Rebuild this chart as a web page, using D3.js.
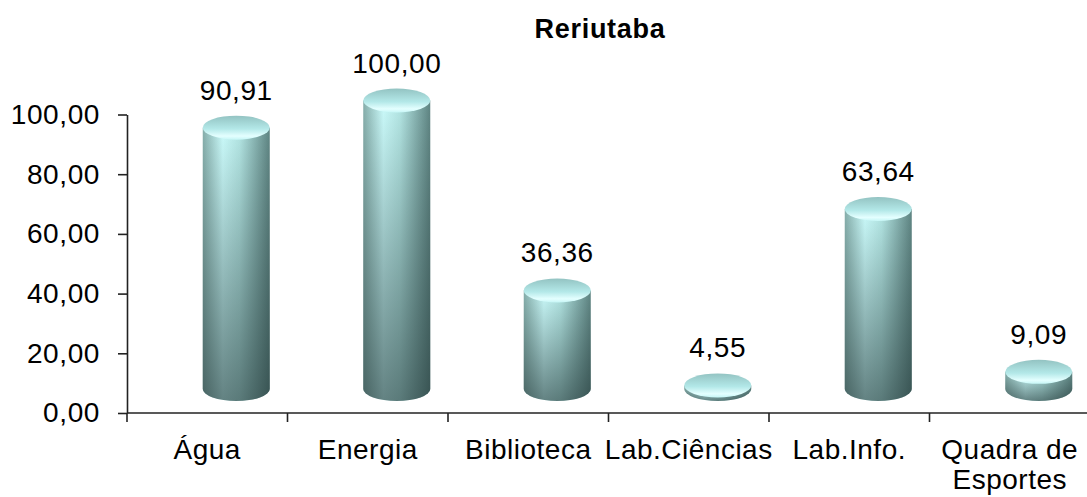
<!DOCTYPE html>
<html>
<head>
<meta charset="utf-8">
<script src="https://cdn.jsdelivr.net/npm/d3@7"></script>
<style>
  body { margin: 0; background: #fff; }
  text { font-family: "Liberation Sans", Arial, sans-serif; fill: #000; }
</style>
</head>
<body>
<div id="chart"></div>
<script>
const width = 1087
const height = 497

const categories = ["Água", "Energia", "Biblioteca", "Lab.Ciências", "Lab.Info.", "Quadra de Esportes"]
const catLines = [["Água"], ["Energia"], ["Biblioteca"], ["Lab.Ciências"], ["Lab.Info."], ["Quadra de", "Esportes"]]
const values = [90.91, 100.00, 36.36, 4.55, 63.64, 9.09]
const yTicks = [0, 20, 40, 60, 80, 100]

const plotLeft = 127, plotRight = 1090, plotTop = 114.5, plotBottom = 413

const svg = d3.select("#chart").append("svg")
  .attr("width", width)
  .attr("height", height)

const pt = d3.formatLocale({decimal: ",", thousands: ".", grouping: [3], currency: ["", ""]})
const fmt = pt.format(".2f")

const x = d3.scaleBand().domain(categories).range([plotLeft, plotRight]).paddingInner(0).paddingOuter(0)
const y = d3.scaleLinear().domain([0, 100]).range([plotBottom, plotTop])

const defs = svg.append("defs")

const side = defs.append("linearGradient").attr("id", "side")
  .attr("x1", 0).attr("x2", 1).attr("y1", 0).attr("y2", 0)
side.append("stop").attr("offset", "0%").attr("stop-color", "#86aeab")
side.append("stop").attr("offset", "30%").attr("stop-color", "#cbfbfb")
side.append("stop").attr("offset", "55%").attr("stop-color", "#b4e6e4")
side.append("stop").attr("offset", "100%").attr("stop-color", "#5f8583")

const shade = defs.append("linearGradient").attr("id", "shade")
  .attr("x1", 0).attr("x2", 0).attr("y1", 0).attr("y2", 1)
shade.append("stop").attr("offset", "0%").attr("stop-color", "#1e3232").attr("stop-opacity", 0)
shade.append("stop").attr("offset", "100%").attr("stop-color", "#1e3232").attr("stop-opacity", 0.6)

const cap = defs.append("linearGradient").attr("id", "cap")
  .attr("x1", 0).attr("x2", 0).attr("y1", 0).attr("y2", 1)
cap.append("stop").attr("offset", "0%").attr("stop-color", "#93c3c2")
cap.append("stop").attr("offset", "55%").attr("stop-color", "#b3e8e8")
cap.append("stop").attr("offset", "85%").attr("stop-color", "#e4ffff")
cap.append("stop").attr("offset", "100%").attr("stop-color", "#c6f6f6")

// title
svg.append("text")
  .attr("x", 600).attr("y", 38)
  .attr("text-anchor", "middle")
  .style("font-size", "27px").style("font-weight", "bold").style("letter-spacing", "0.7px")
  .text("Reriutaba")

// y axis
const yAxis = svg.append("g")
  .attr("transform", `translate(${plotLeft},0)`)
  .call(d3.axisLeft(y).tickValues(yTicks).tickFormat(fmt).tickSize(9).tickSizeOuter(0).tickPadding(18))
yAxis.selectAll("text")
  .style("font-size", "28px").style("letter-spacing", "0.6px")
  .style("font-family", "Liberation Sans, Arial, sans-serif").attr("fill", "#000")
yAxis.selectAll("line, path").attr("stroke", "#222").attr("stroke-width", 1.6)

// x axis line and boundary ticks
const xAxis = svg.append("g")
xAxis.append("line")
  .attr("x1", plotLeft).attr("x2", plotRight).attr("y1", plotBottom).attr("y2", plotBottom)
  .attr("stroke", "#222").attr("stroke-width", 1.6)
xAxis.selectAll(".xt").data(categories).join("line")
  .attr("x1", d => x(d)).attr("x2", d => x(d))
  .attr("y1", plotBottom).attr("y2", plotBottom + 9)
  .attr("stroke", "#222").attr("stroke-width", 1.6)

// category labels
xAxis.selectAll(".xl").data(categories).join("text")
  .attr("text-anchor", "middle")
  .style("font-size", "28px").style("letter-spacing", "0.5px")
  .each(function(d, i) {
    const t = d3.select(this)
    catLines[i].forEach((line, k) => {
      t.append("tspan").attr("x", x(d) + x.bandwidth() / 2).attr("y", 459 + k * 30).text(line)
    })
  })

// cylinders
const rx = 33.5, ry = 12
const depthX = 29, depthY = 14, baseY = plotBottom - 24

const bars = svg.append("g")
categories.forEach((c, i) => {
  const v = values[i]
  const cx = x(c) + x.bandwidth() / 2 + depthX
  const yt = y(v) - depthY
  const yb = Math.max(baseY, yt + 3)
  const body = `M${cx - rx},${yt} L${cx - rx},${yb} A${rx},${ry} 0 0 0 ${cx + rx},${yb} L${cx + rx},${yt} Z`
  const g = bars.append("g")
  g.append("path").attr("d", body).attr("fill", "url(#side)")
  g.append("path").attr("d", body).attr("fill", "url(#shade)")
  g.append("ellipse")
    .attr("cx", cx).attr("cy", yt).attr("rx", rx).attr("ry", ry)
    .attr("fill", "url(#cap)")

  svg.append("text")
    .attr("x", cx).attr("y", yt - ry - 16)
    .attr("text-anchor", "middle")
    .style("font-size", "28px").style("letter-spacing", "0.6px")
    .text(fmt(v))
})
</script>
</body>
</html>
